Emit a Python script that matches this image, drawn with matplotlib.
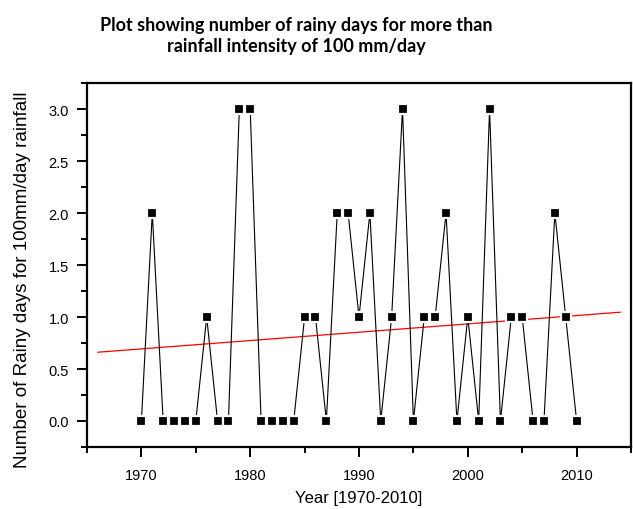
import numpy as np
import matplotlib.pyplot as plt
from matplotlib.ticker import MultipleLocator

years = list(range(1970, 2011))
rainy_days = [0, 2, 0, 0, 0, 0, 1, 0, 0, 3,
              3, 0, 0, 0, 0, 1, 1, 0, 2, 2,
              1, 2, 0, 1, 3, 0, 1, 1, 2, 0,
              1, 0, 3, 0, 1, 1, 0, 0, 2, 1,
              0]
trend_x = [1966, 2014]

slope, intercept = np.polyfit(years, rainy_days, 1)
trend_y = [slope * x + intercept for x in trend_x]

plt.rcParams["font.family"] = ["Liberation Sans", "DejaVu Sans"]

fig = plt.figure(figsize=(6.33, 5.10), dpi=100)
ax = fig.add_axes([87 / 633, 62 / 510, 544 / 633, 364 / 510])

# white edge on the markers gives the small gap where the line meets a point
ax.plot(years, rainy_days, color="black", lw=0.8, marker="s", ms=7.2,
        markerfacecolor="black", markeredgecolor="white", markeredgewidth=1.6,
        zorder=3)
ax.plot(trend_x, trend_y, color="red", lw=0.9, zorder=2)

ax.set_xlim(1965, 2015)
ax.set_ylim(-0.25, 3.25)
ax.xaxis.set_major_locator(MultipleLocator(10))
ax.xaxis.set_minor_locator(MultipleLocator(5))
ax.yaxis.set_major_locator(MultipleLocator(0.5))
ax.yaxis.set_minor_locator(MultipleLocator(0.25))
ax.yaxis.set_major_formatter(plt.FormatStrFormatter("%.1f"))

for s in ax.spines.values():
    s.set_linewidth(1.6)
ax.tick_params(which="major", direction="out", length=7, width=1.4,
               labelsize=10.5, pad=6)
ax.tick_params(which="minor", direction="out", length=4, width=1.4)
ax.tick_params(axis="x", pad=8)

ax.set_xlabel("Year [1970-2010]", fontsize=12)
ax.xaxis.set_label_coords(0.5, -51 / 364, transform=ax.transAxes)
ax.xaxis.label.set_va("center")
ax.set_ylabel("Number of Rainy days for 100mm/day rainfall", fontsize=13.5)
ax.yaxis.set_label_coords(-64 / 544, (448 - 280) / 364, transform=ax.transAxes)
ax.yaxis.label.set_va("center")

fig.text(296 / 633, 1 - 36 / 510,
         "Plot showing number of rainy days for more than\nrainfall intensity of 100 mm/day",
         ha="center", va="center", fontsize=13, fontweight="bold",
         family=["Lato", "DejaVu Sans"], linespacing=1.3)

fig.savefig("out.png", dpi=100)
